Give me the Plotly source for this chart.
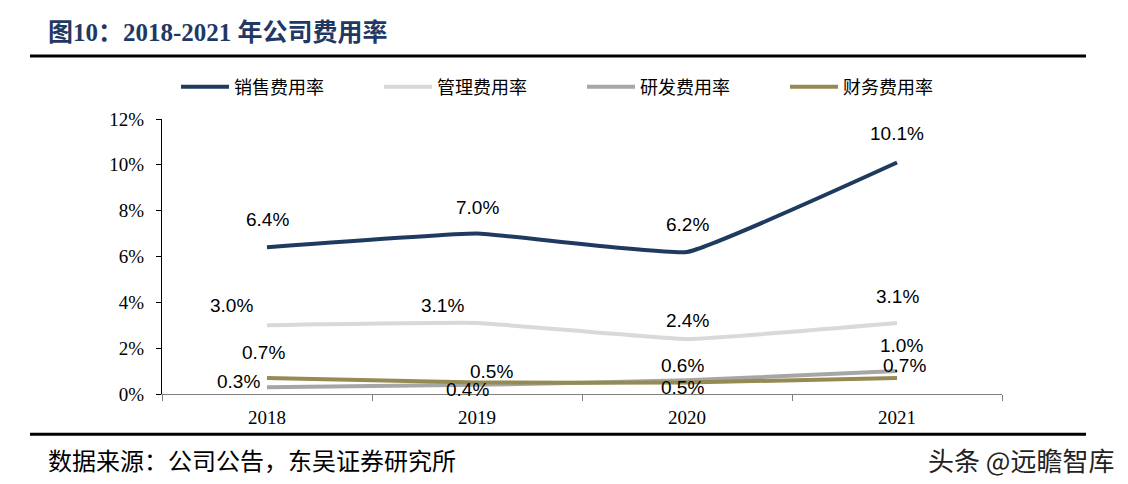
import plotly.graph_objects as go

years = ["2018", "2019", "2020", "2021"]
sales = [6.4, 7.0, 6.2, 10.1]
admin = [3.0, 3.1, 2.4, 3.1]
rnd = [0.3, 0.4, 0.6, 1.0]
fin = [0.7, 0.5, 0.5, 0.7]
names = ["销售费用率", "管理费用率", "研发费用率", "财务费用率"]
colors = ["#1f3a5f", "#d9d9d9", "#a6a6a6", "#948a54"]
series = [sales, admin, rnd, fin]
y_ticks = [0, 2, 4, 6, 8, 10, 12]

# label offsets (pixels) per series/point
offsets = [
    [(0, 28), (0, 26), (0, 27), (0, 29)],
    [(-36, 20), (-35, 17), (0, 19), (0, 26)],
    [(-29, 6), (-10, -5), (-5, 15), (4, 26)],
    [(-4, 25), (14, 11), (-5, -5), (7, 12)],
]

OFF = 8  # page body margin
L, R, T, B = 162 - OFF, 1002 - OFF, 119 - OFF, 393.7 - OFF
FW, FH = 1128 - OFF, 484 - OFF
W, H = R - L, B - T
def px(x): return (x - OFF - L) / W
def py(y): return (B - (y - OFF)) / H

fig = go.Figure()
for n, c, s in zip(names, colors, series):
    fig.add_trace(go.Scatter(x=years, y=s, name=n, mode="lines",
                             line=dict(color=c, width=4, shape="spline", smoothing=0.3)))

ann = []
for s, offs in zip(series, offsets):
    for i, (yv, (dx, dy)) in enumerate(zip(s, offs)):
        ann.append(dict(x=i, y=yv, xref="x", yref="y", text=f"{yv:.1f}%", showarrow=False,
                        xshift=dx, yshift=dy,
                        font=dict(family="Liberation Sans, Arial", size=19, color="#000")))

ann.append(dict(x=px(46), y=py(33), xref="paper", yref="paper", xanchor="left", yanchor="middle",
                text="<b>图10：2018-2021 年公司费用率</b>", showarrow=False,
                font=dict(family="Liberation Serif, Noto Sans CJK SC", size=25, color="#1f3864")))
ann.append(dict(x=px(46), y=py(459), xref="paper", yref="paper", xanchor="left", yanchor="middle",
                text="数据来源：公司公告，东吴证券研究所", showarrow=False,
                font=dict(family="Noto Sans CJK SC", size=24, color="#000")))
ann.append(dict(x=px(1116), y=py(459), xref="paper", yref="paper", xanchor="right", yanchor="middle",
                text="头条 @远瞻智库", showarrow=False,
                font=dict(family="Noto Sans CJK SC", size=26, color="#222")))

shapes = [
    dict(type="line", xref="paper", yref="paper", x0=px(30), x1=px(1086), y0=py(56), y1=py(56),
         line=dict(color="#000", width=3)),
    dict(type="line", xref="paper", yref="paper", x0=px(30), x1=px(1086), y0=py(434), y1=py(434),
         line=dict(color="#000", width=3)),
]

fig.update_layout(
    width=FW, height=FH,
    margin=dict(l=L, r=FW - R, t=T, b=FH - B, pad=0),
    plot_bgcolor="white", paper_bgcolor="white",
    annotations=ann, shapes=shapes,
    showlegend=True,
    legend=dict(orientation="h", x=px(176), y=py(87), xanchor="left", yanchor="middle",
                entrywidth=140, entrywidthmode="pixels",
                font=dict(family="Noto Sans CJK SC", size=18, color="#000"),
                itemwidth=48, tracegroupgap=0),
    xaxis=dict(type="category", range=[-0.5, 3.5], showline=True, linecolor="#808080", linewidth=1,
               ticks="outside", tickson="boundaries", ticklen=6, tickcolor="#808080",
               showgrid=False, zeroline=False, ticklabelstandoff=6,
               tickfont=dict(family="Liberation Serif, Times New Roman", size=19, color="#000")),
    yaxis=dict(range=[0, 12], tickvals=y_ticks, ticktext=[f"{v}%" for v in y_ticks],
               showline=True, linecolor="#000", linewidth=1, ticks="outside", ticklen=5,
               tickcolor="#000", showgrid=False, zeroline=False, ticklabelstandoff=8,
               tickfont=dict(family="Liberation Serif, Times New Roman", size=19, color="#000")),
)

fig.write_html("out.html")
